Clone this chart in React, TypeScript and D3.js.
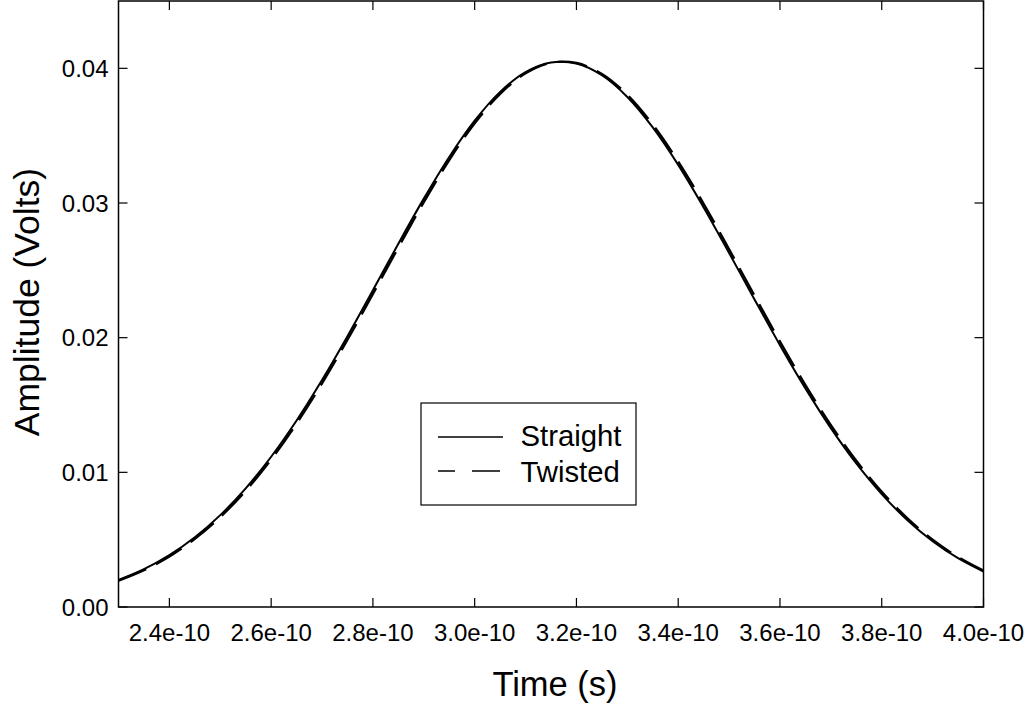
import React from "react";
import * as d3 from "d3";

const times = [
  2.3, 2.35, 2.4, 2.45, 2.5, 2.55, 2.6, 2.65, 2.7, 2.75, 2.8, 2.85, 2.9, 2.95,
  3.0, 3.05, 3.1, 3.15, 3.2, 3.25, 3.3, 3.35, 3.4, 3.45, 3.5, 3.55, 3.6, 3.65,
  3.7, 3.75, 3.8, 3.85, 3.9, 3.95, 4.0,
]; // units of 1e-10 s

const straight = [
  0.00201, 0.002809, 0.003851, 0.005177, 0.006821, 0.00881, 0.011156, 0.01385,
  0.016856, 0.020112, 0.023525, 0.026977, 0.030325, 0.033421, 0.036111,
  0.038251, 0.03972, 0.040436, 0.040355, 0.039484, 0.037873, 0.035614,
  0.032831, 0.029672, 0.02629, 0.022835, 0.019445, 0.016233, 0.013284,
  0.010659, 0.008384, 0.006465, 0.004887, 0.003622, 0.002631,
];

const twisted = [
  0.001955, 0.002736, 0.003757, 0.005058, 0.006676, 0.008636, 0.010954,
  0.013621, 0.016605, 0.019844, 0.02325, 0.026702, 0.030065, 0.033187,
  0.035916, 0.038106, 0.039632, 0.040411, 0.040393, 0.039584, 0.038029,
  0.035818, 0.033071, 0.029936, 0.026566, 0.023111, 0.01971, 0.01648,
  0.013508, 0.010855, 0.008552, 0.006605, 0.005, 0.003712, 0.0027,
];

const xTicks = [2.4, 2.6, 2.8, 3.0, 3.2, 3.4, 3.6, 3.8, 4.0];
const yTicks = [0, 0.01, 0.02, 0.03, 0.04];
const seriesNames = ["Straight", "Twisted"];

const W = 1034;
const H = 706;
const L = 118.5;
const R = 983.5;
const T = 1;
const B = 607;
const FONT = "'Liberation Sans', Arial, sans-serif";

export default function App() {
  const x = d3.scaleLinear().domain([2.3, 4.0]).range([L, R]);
  const y = d3.scaleLinear().domain([0, 0.045]).range([B, T]);
  const line = d3
    .line<number>()
    .x((_, i) => x(times[i]))
    .y((d) => y(d))
    .curve(d3.curveCatmullRom);
  const tickLen = 9;

  return (
    <svg
      width={W}
      height={H}
      style={{ position: "absolute", left: 0, top: 0, display: "block", background: "#fff" }}
    >
      <defs>
        <clipPath id="plotclip">
          <rect x={L} y={T} width={R - L} height={B - T} />
        </clipPath>
      </defs>
      <g clipPath="url(#plotclip)" fill="none" stroke="#000">
        <path d={line(straight) || ""} strokeWidth={2} />
        <path d={line(twisted) || ""} strokeWidth={2.4} strokeDasharray="30,11" />
      </g>

      {/* frame */}
      <rect x={L} y={T} width={R - L} height={B - T} fill="none" stroke="#000" strokeWidth={1.5} />

      {/* x ticks */}
      {xTicks.map((t) => (
        <g key={"x" + t}>
          <line x1={x(t)} x2={x(t)} y1={B} y2={B - tickLen} stroke="#000" strokeWidth={1.2} />
          <line x1={x(t)} x2={x(t)} y1={T} y2={T + tickLen} stroke="#000" strokeWidth={1.2} />
          <text
            x={x(t)}
            y={641}
            textAnchor="middle"
            fontFamily={FONT}
            fontSize={24}
            fill="#000"
          >
            {t.toFixed(1) + "e-10"}
          </text>
        </g>
      ))}

      {/* y ticks */}
      {yTicks.map((v) => (
        <g key={"y" + v}>
          <line x1={L} x2={L + tickLen} y1={y(v)} y2={y(v)} stroke="#000" strokeWidth={1.2} />
          <line x1={R} x2={R - tickLen} y1={y(v)} y2={y(v)} stroke="#000" strokeWidth={1.2} />
          <text
            x={108.5}
            y={y(v)}
            dy="0.36em"
            textAnchor="end"
            fontFamily={FONT}
            fontSize={24}
            fill="#000"
          >
            {v.toFixed(2)}
          </text>
        </g>
      ))}

      {/* axis titles */}
      <text x={555} y={696} textAnchor="middle" fontFamily={FONT} fontSize={34.5} fill="#000">
        Time (s)
      </text>
      <text
        transform="translate(39,302) rotate(-90)"
        textAnchor="middle"
        fontFamily={FONT}
        fontSize={35.5}
        fill="#000"
      >
        Amplitude (Volts)
      </text>

      {/* legend */}
      <rect x={421} y={403} width={215} height={102} fill="#fff" stroke="#000" strokeWidth={1.2} />
      <line x1={438} x2={503} y1={437} y2={437} stroke="#000" strokeWidth={1.5} />
      <line
        x1={438}
        x2={500}
        y1={471}
        y2={471}
        stroke="#000"
        strokeWidth={1.5}
        strokeDasharray="28,17"
        strokeDashoffset={11}
      />
      <text x={520.5} y={446} fontFamily={FONT} fontSize={29.3} fill="#000">
        {seriesNames[0]}
      </text>
      <text x={520.5} y={481.5} fontFamily={FONT} fontSize={29.3} fill="#000">
        {seriesNames[1]}
      </text>
    </svg>
  );
}
